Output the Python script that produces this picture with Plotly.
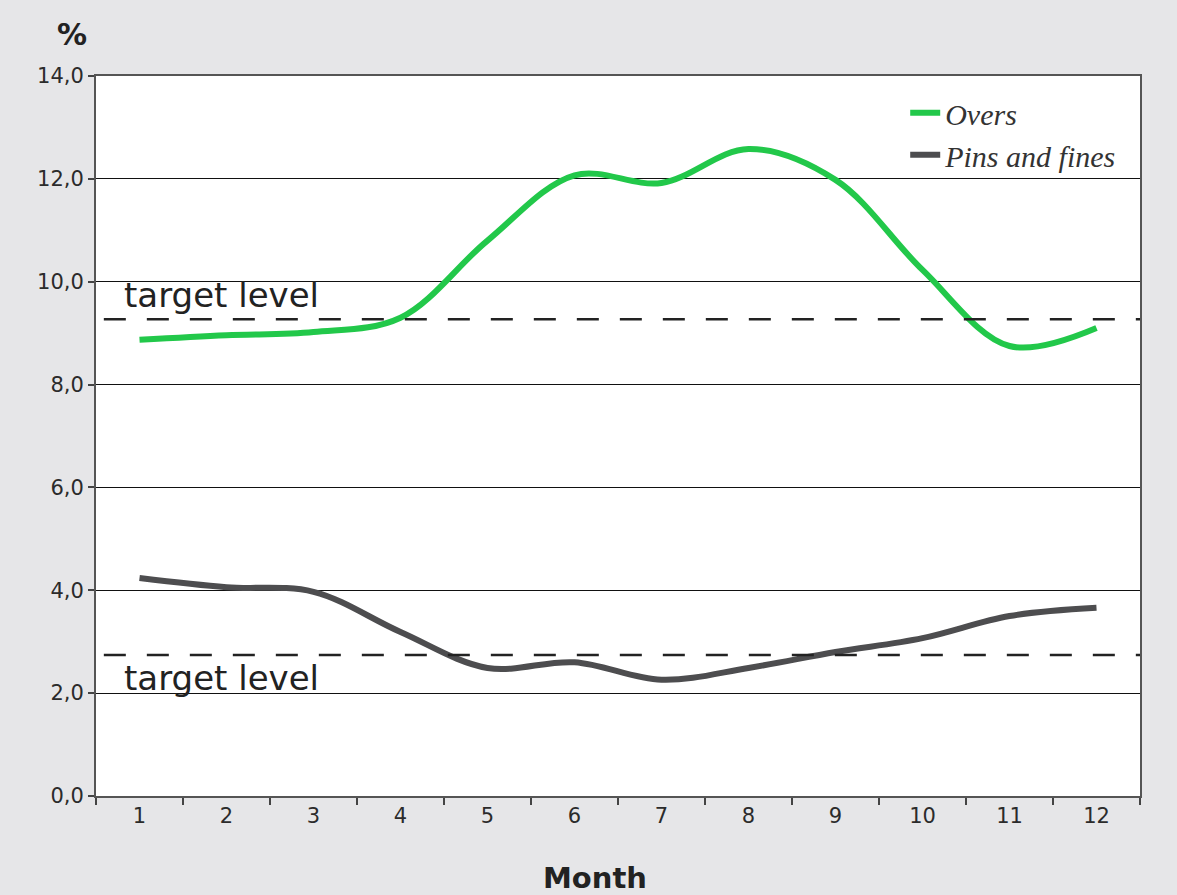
import plotly.graph_objects as go

months = [str(i) for i in range(1, 13)]
overs = [8.87, 8.96, 9.02, 9.3, 10.8, 12.07, 11.92, 12.58, 11.98, 10.23, 8.75, 9.1]
pins_fines = [4.24, 4.06, 3.97, 3.19, 2.49, 2.6, 2.26, 2.49, 2.8, 3.07, 3.5, 3.66]
target_overs = 9.27
target_pins = 2.74
y_ticks = [0, 2, 4, 6, 8, 10, 12, 14]
y_labels = ["0,0", "2,0", "4,0", "6,0", "8,0", "10,0", "12,0", "14,0"]

fig = go.Figure()
fig.add_trace(go.Scatter(x=months, y=overs, mode="lines", name="Overs",
                         line=dict(color="#22c84a", width=6, shape="spline", smoothing=1.0)))
fig.add_trace(go.Scatter(x=months, y=pins_fines, mode="lines", name="Pins and fines",
                         line=dict(color="#4d4d4f", width=6, shape="spline", smoothing=1.0)))

for t in (target_overs, target_pins):
    fig.add_shape(type="line", xref="x", yref="y", x0=-0.41, x1=11.5, y0=t, y1=t,
                  line=dict(color="#222222", width=2.5, dash="22px,21px"))

fig.add_annotation(x=-0.2, y=target_overs, xref="x", yref="y", text="target level",
                   showarrow=False, xanchor="left", yanchor="bottom", yshift=2,
                   font=dict(family="DejaVu Sans", size=34, color="#222222"))
fig.add_annotation(x=-0.2, y=target_pins, xref="x", yref="y", text="target level",
                   showarrow=False, xanchor="left", yanchor="top", yshift=-1,
                   font=dict(family="DejaVu Sans", size=34, color="#222222"))

fig.add_annotation(x=-0.023, y=1.057, xref="paper", yref="paper", text="<b>%</b>",
                   showarrow=False, xanchor="center", yanchor="middle",
                   font=dict(family="DejaVu Sans", size=30, color="#222222"))
fig.add_annotation(x=0.478, y=-0.114, xref="paper", yref="paper", text="<b>Month</b>",
                   showarrow=False, xanchor="center", yanchor="middle",
                   font=dict(family="DejaVu Sans", size=29, color="#222222"))

fig.update_layout(
    width=1177, height=895,
    paper_bgcolor="#e6e6e8", plot_bgcolor="white",
    margin=dict(l=96, r=37, t=76, b=99),
    font=dict(family="DejaVu Sans", color="#2b2b2b", size=21),
    legend=dict(x=0.982, y=0.985, xanchor="right", yanchor="top",
                bgcolor="rgba(0,0,0,0)",
                font=dict(family="Liberation Serif", size=30, color="#333333", style="italic"),
                itemwidth=30),
    xaxis=dict(type="category", range=[-0.5, 11.5], tickson="boundaries",
               ticks="outside", ticklen=7, tickcolor="#444444", tickwidth=2,
               showline=True, linecolor="#555555", linewidth=2, mirror=True,
               showgrid=False),
    yaxis=dict(range=[0, 14], tickvals=y_ticks, ticktext=y_labels,
               ticks="outside", ticklen=6, tickcolor="#444444", tickwidth=2,
               showline=True, linecolor="#555555", linewidth=2, mirror=True,
               showgrid=True, gridcolor="#111111", gridwidth=1.2, zeroline=False),
    showlegend=True,
)

fig.write_html("out.html", config={"displayModeBar": False},
               post_script="document.body.style.margin='0';document.body.style.background='#e6e6e8';")
